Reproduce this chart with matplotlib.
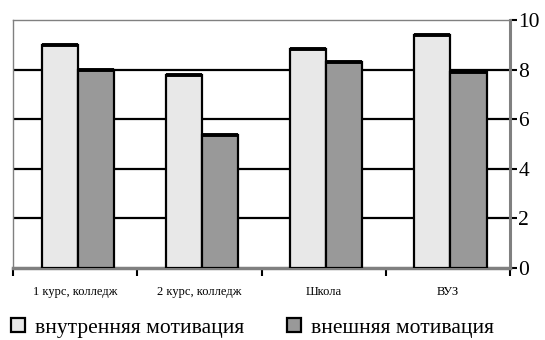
import numpy as np
import matplotlib.pyplot as plt
from matplotlib.ticker import FixedLocator, NullFormatter

plt.rcParams['font.family'] = 'serif'
plt.rcParams['font.serif'] = ['Liberation Serif', 'DejaVu Serif']

categories = ['1 курс, колледж', '2 курс, колледж', 'Школа', 'ВУЗ']
internal = [9.0, 7.8, 8.85, 9.4]
external = [8.0, 5.35, 8.3, 7.9]
series_names = ['внутренняя мотивация', 'внешняя мотивация']
y_ticks = [0, 2, 4, 6, 8, 10]

fig = plt.figure(figsize=(5.45, 3.4), dpi=100)
ax = fig.add_axes([0.024, 0.212, 0.912, 0.729])

x = np.arange(len(categories))
w = 0.29
b1 = ax.bar(x - w / 2 + 0.02, internal, w, color='#e8e8e8', edgecolor='black',
            linewidth=1.6, zorder=3, label=series_names[0])
b2 = ax.bar(x + w / 2 + 0.02, external, w, color='#999999', edgecolor='black',
            linewidth=1.6, zorder=3, label=series_names[1])

# heavier line on top of each bar
for bars, vals in [(b1, internal), (b2, external)]:
    for r, v in zip(bars, vals):
        ax.plot([r.get_x(), r.get_x() + r.get_width()], [v, v],
                color='black', linewidth=2.8, solid_capstyle='butt', zorder=4)

ax.set_xlim(-0.5, len(categories) - 0.5)
ax.set_ylim(0, 10)

# horizontal grid lines, black, behind the bars
for v in y_ticks[1:-1]:
    ax.axhline(v, color='black', linewidth=1.6, zorder=1)

ax.yaxis.tick_right()
ax.set_yticks(y_ticks)
ax.set_yticklabels([str(v) for v in y_ticks], fontsize=15.5)
ax.tick_params(axis='y', direction='out', length=5, width=1.5, color='black', pad=1)

# category ticks sit on the boundaries, labels in the middle
ax.xaxis.set_major_locator(FixedLocator(np.arange(-0.5, len(categories), 1.0)))
ax.xaxis.set_major_formatter(NullFormatter())
ax.xaxis.set_minor_locator(FixedLocator(x))
ax.set_xticklabels(categories, minor=True, fontsize=9)
ax.tick_params(axis='x', which='major', direction='out', length=6, width=1.5, color='black')
ax.tick_params(axis='x', which='minor', length=0, pad=13)

for side in ['left', 'top']:
    ax.spines[side].set_color('#808080')
    ax.spines[side].set_linewidth(1.0)
ax.spines['right'].set_color('#808080')
ax.spines['right'].set_linewidth(2.2)
ax.spines['bottom'].set_color('#808080')
ax.spines['bottom'].set_linewidth(2.5)

fig.legend(handles=[b1, b2], labels=series_names, loc='center left',
           bbox_to_anchor=(0.02, 0.036), ncol=2, frameon=False, borderpad=0,
           borderaxespad=0, prop={'size': 15.5},
           handlelength=0.65, handleheight=0.65, handletextpad=0.45,
           columnspacing=2.0)

fig.savefig('out.png', dpi=100)
